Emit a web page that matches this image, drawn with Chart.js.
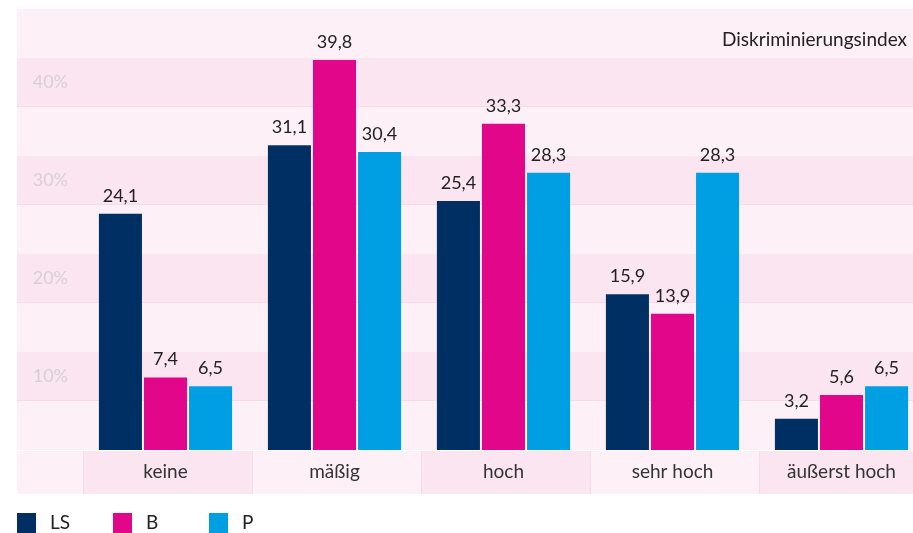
<!DOCTYPE html>
<html>
<head>
<meta charset="utf-8">
<script src="https://cdn.jsdelivr.net/npm/chart.js@4.4.1/dist/chart.umd.min.js"></script>
<style>
  html, body { margin: 0; padding: 0; background: #fff; }
  #wrap { width: 913px; height: 533px; overflow: hidden; position: relative; }
  #chart { position: absolute; left: 0; top: 0; }
</style>
</head>
<body>
<div id="wrap"><canvas id="chart" width="930" height="533"></canvas></div>
<script>
var categories = ['keine', 'mäßig', 'hoch', 'sehr hoch', 'äußerst hoch'];
var seriesNames = ['LS', 'B', 'P'];
var valuesLS = [24.1, 31.1, 25.4, 15.9, 3.2];
var valuesB = [7.4, 39.8, 33.3, 13.9, 5.6];
var valuesP = [6.5, 30.4, 28.3, 28.3, 6.5];
var yTickValues = [7.5, 17.5, 27.5, 37.5];
var yTickLabels = ['10%', '20%', '30%', '40%'];
var indexLabel = 'Diskriminierungsindex';

var colors = ['#003063', '#e2068a', '#009fe3'];
var FONT = 'Lato, "Open Sans", sans-serif';

function fmt(v) {
  return v.toFixed(1).replace('.', ',');
}

// pink striped background, category boxes, index label, values and legend
var backdrop = {
  id: 'backdrop',
  beforeDraw: function (chart) {
    var ctx = chart.ctx;
    var y = chart.scales.y;
    var x = chart.scales.x;
    var area = chart.chartArea;
    var left = 17, right = chart.width;
    ctx.save();
    ctx.fillStyle = '#fdf1f7';
    ctx.fillRect(left, y.getPixelForValue(45), right - left, y.getPixelForValue(0) - y.getPixelForValue(45));
    for (var v = 5; v < 45; v += 10) {
      var top = y.getPixelForValue(v + 5);
      var bot = y.getPixelForValue(v);
      ctx.fillStyle = '#fae5f1';
      ctx.fillRect(left, top, right - left, bot - top);
      ctx.fillStyle = '#f7d9ea';
      ctx.fillRect(left, bot - 1, right - left, 1);
    }
    // category band (boxes sit slightly right of the bar groups)
    var bandTop = area.bottom + 1, bandBot = area.bottom + 44;
    ctx.fillStyle = '#fdf1f7';
    ctx.fillRect(left, bandTop, right - left, bandBot - bandTop);
    var w = (area.right - area.left) / categories.length;
    for (var i = 0; i < categories.length; i++) {
      var bx = x.getPixelForValue(i) - w / 2 + 2;
      ctx.fillStyle = i % 2 === 0 ? '#fae5f1' : '#fdf1f7';
      ctx.fillRect(bx, bandTop, w, bandBot - bandTop);
      ctx.fillStyle = '#f7dbea';
      ctx.fillRect(Math.round(bx), bandTop, 1, bandBot - bandTop);
    }
    ctx.fillStyle = '#222';
    ctx.font = '19px ' + FONT;
    ctx.textAlign = 'right';
    ctx.textBaseline = 'middle';
    ctx.fillText(indexLabel, 907, 40);
    ctx.restore();
  },
  afterDatasetsDraw: function (chart) {
    var ctx = chart.ctx;
    ctx.save();
    ctx.fillStyle = '#222';
    ctx.font = '18px ' + FONT;
    ctx.textAlign = 'center';
    ctx.textBaseline = 'alphabetic';
    chart.data.datasets.forEach(function (ds, di) {
      chart.getDatasetMeta(di).data.forEach(function (bar, i) {
        ctx.fillText(fmt(ds.data[i]), bar.x, bar.y - 12);
      });
    });
    // legend
    ctx.font = '19px ' + FONT;
    ctx.textAlign = 'left';
    ctx.textBaseline = 'middle';
    chart.data.datasets.forEach(function (ds, di) {
      var lx = 17 + di * 96;
      ctx.fillStyle = ds.backgroundColor;
      ctx.fillRect(lx, 513, 19, 20);
      ctx.fillStyle = '#222';
      ctx.fillText(ds.label, lx + 33, 523);
    });
    ctx.restore();
  }
};

new Chart(document.getElementById('chart').getContext('2d'), {
  type: 'bar',
  data: {
    labels: categories,
    datasets: [
      { label: seriesNames[0], data: valuesLS, backgroundColor: colors[0] },
      { label: seriesNames[1], data: valuesB, backgroundColor: colors[1] },
      { label: seriesNames[2], data: valuesP, backgroundColor: colors[2] }
    ]
  },
  options: {
    responsive: false,
    animation: false,
    devicePixelRatio: 1,
    layout: { padding: { left: 15, top: 9, right: 4, bottom: 39 } },
    datasets: { bar: { categoryPercentage: 0.8, barPercentage: 0.955, borderWidth: 0 } },
    scales: {
      x: {
        grid: { display: false, drawTicks: false },
        border: { display: false },
        ticks: { color: '#333', font: { family: FONT, size: 19 }, padding: 10 },
        afterFit: function (s) { s.height = 44; s.paddingLeft = 0; s.paddingRight = 0; }
      },
      y: {
        min: 0,
        max: 45,
        grid: { display: false, drawTicks: false },
        border: { display: false },
        afterBuildTicks: function (s) {
          s.ticks = yTickValues.map(function (v) { return { value: v }; });
        },
        ticks: {
          color: '#d6d0d4',
          font: { family: FONT, size: 18 },
          crossAlign: 'near',
          padding: 13,
          callback: function (v) {
            return yTickLabels[yTickValues.indexOf(v)];
          }
        },
        afterFit: function (s) { s.width = 66; s.paddingTop = 0; s.paddingBottom = 0; }
      }
    },
    plugins: {
      tooltip: { enabled: false },
      legend: { display: false }
    }
  },
  plugins: [backdrop]
});
</script>
</body>
</html>
